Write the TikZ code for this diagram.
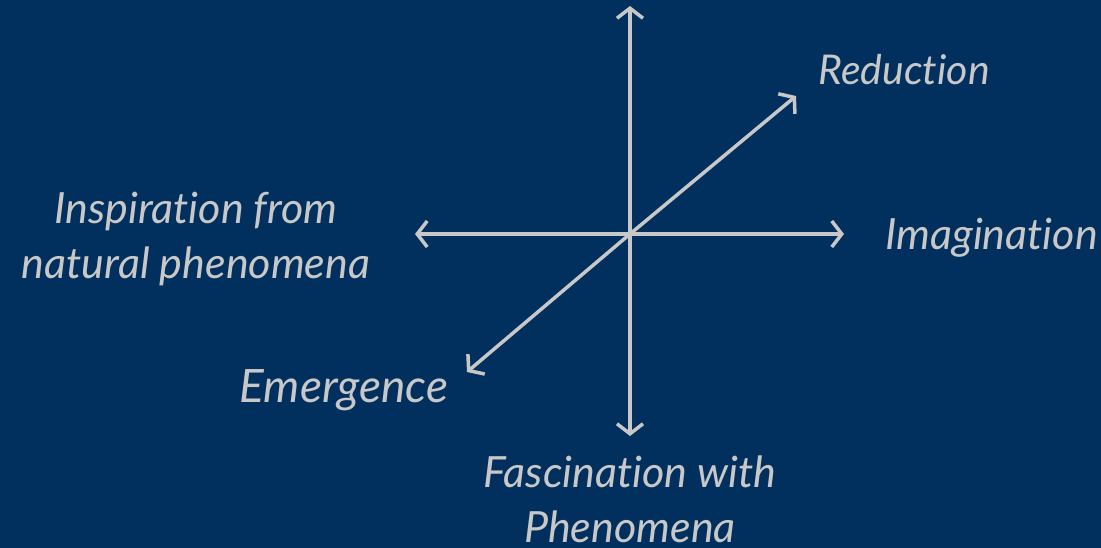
\documentclass[tikz,border=0pt]{standalone}
\usepackage{fontspec}
\setmainfont{Lato}[Ligatures={NoCommon}]
\usetikzlibrary{arrows.meta}
\definecolor{bgblue}{HTML}{01305F}
\definecolor{axisgray}{HTML}{C8C8C8}
\tikzset{
  tip/.tip={Straight Barb[length=10pt,width=26pt,line width=3.5pt]},
  axis/.style={draw=axisgray, line width=3.5pt, tip-tip},
  oneway/.style={draw=axisgray, line width=3.5pt, -tip},
  lbl/.style={text=axisgray, font=\itshape\fontsize{43}{55}\selectfont, inner sep=0pt, align=center}
}
\begin{document}
\begin{tikzpicture}[x=1pt,y=-1pt]
\fill[bgblue] (0,0) rectangle (1101,548);
\useasboundingbox (0,0) rectangle (1101,548);
\coordinate (c) at (630,234);
\coordinate (top) at (630,6);
\coordinate (bot) at (630,436);
\coordinate (lft) at (415,234);
\coordinate (rgt) at (844,234);
\coordinate (ur) at (796,96);
\coordinate (ll) at (467,372);
\draw[axis] (top) -- (bot);
\draw[axis] (lft) -- (rgt);
\draw[oneway] (c) -- (ur);
\draw[oneway] (c) -- (ll);
\node[lbl, font=\itshape\fontsize{41}{55}\selectfont] (red) at (904,70) {Reduction};
\node[lbl, anchor=base west] (ima) at (885,250) {Imagination};
\node[lbl] (insp) at (196,239) {Inspiration from\\natural phenomena};
\node[lbl, font=\itshape\fontsize{46}{55}\selectfont] (eme) at (344,390) {Emergence};
\node[lbl] (fas) at (630,499) {Fascination with\\Phenomena};
\end{tikzpicture}
\end{document}
